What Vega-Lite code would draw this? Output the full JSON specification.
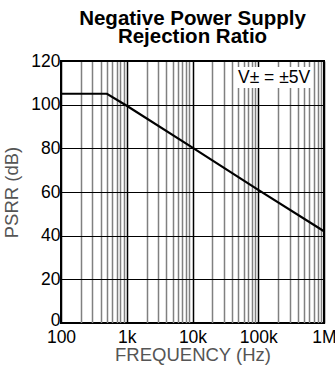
{
  "$schema": "https://vega.github.io/schema/vega-lite/v6.json",
  "width": 263,
  "height": 262,
  "autosize": {"type": "none"},
  "padding": {"left": 61, "top": 61, "right": 11, "bottom": 43},
  "background": "white",
  "title": {
    "text": ["Negative Power Supply", "Rejection Ratio"],
    "font": "Liberation Sans",
    "fontSize": 20.5,
    "fontWeight": "bold",
    "color": "black",
    "lineHeight": 17.5,
    "anchor": "middle",
    "offset": 5
  },
  "config": {
    "view": {"stroke": "black", "strokeWidth": 2},
    "axis": {
      "labelFont": "Liberation Sans",
      "titleFont": "Liberation Sans",
      "labelColor": "black",
      "titleColor": "#555555",
      "titleFontWeight": "normal",
      "domain": false,
      "ticks": false,
      "labelOverlap": false,
      "labelFlush": false
    }
  },
  "datasets": {
    "curve": [
      {"freq": 100, "psrr": 105},
      {"freq": 500, "psrr": 105},
      {"freq": 1000, "psrr": 99.5},
      {"freq": 10000, "psrr": 80.3},
      {"freq": 100000, "psrr": 61},
      {"freq": 1000000, "psrr": 42}
    ],
    "note": [
      {"x1": 45900, "x2": 648000, "y1": 107.6, "y2": 117.3, "tx": 174000, "ty": 112.4, "label": "V± = ±5V"}
    ]
  },
  "layer": [
    {
      "data": {"name": "curve"},
      "mark": {"type": "line", "color": "black", "strokeWidth": 2.2},
      "encoding": {
        "x": {
          "field": "freq",
          "type": "quantitative",
          "scale": {"type": "log", "domain": [100, 1000000], "nice": false},
          "axis": {
            "title": "FREQUENCY (Hz)",
            "titleFontSize": 18.5,
            "titlePadding": 0,
            "labelFontSize": 17.5,
            "labelPadding": 5,
            "values": [100, 200, 300, 400, 500, 600, 700, 800, 900, 1000, 2000, 3000, 4000, 5000, 6000, 7000, 8000, 9000, 10000, 20000, 30000, 40000, 50000, 60000, 70000, 80000, 90000, 100000, 200000, 300000, 400000, 500000, 600000, 700000, 800000, 900000, 1000000],
            "labelExpr": "datum.value == 100 ? '100' : datum.value == 1000 ? '1k' : datum.value == 10000 ? '10k' : datum.value == 100000 ? '100k' : datum.value == 1000000 ? '1M' : ''",
            "grid": true,
            "gridColor": {"condition": {"test": "indexof([100,1000,10000,100000,1000000], datum.value) >= 0", "value": "black"}, "value": "#808080"},
            "gridWidth": 1.5,
            "gridOpacity": 1
          }
        },
        "y": {
          "field": "psrr",
          "type": "quantitative",
          "scale": {"domain": [0, 120], "nice": false},
          "axis": {
            "title": "PSRR (dB)",
            "titleFontSize": 18.5,
            "titlePadding": 9,
            "labelFontSize": 17.5,
            "labelPadding": 1,
            "labelOffset": {"condition": {"test": "datum.value == 0", "value": -3}, "value": 0},
            "values": [0, 10, 20, 30, 40, 50, 60, 70, 80, 90, 100, 110, 120],
            "labelExpr": "datum.value % 20 == 0 ? datum.label : ''",
            "grid": true,
            "gridColor": "black",
            "gridWidth": 1.2,
            "gridOpacity": 1
          }
        }
      }
    },
    {
      "data": {"name": "note"},
      "mark": {"type": "rect", "fill": "white"},
      "encoding": {
        "x": {"field": "x1", "type": "quantitative"},
        "x2": {"field": "x2"},
        "y": {"field": "y1", "type": "quantitative"},
        "y2": {"field": "y2"}
      }
    },
    {
      "data": {"name": "note"},
      "mark": {"type": "text", "font": "Liberation Sans", "fontSize": 17.5, "color": "black", "align": "center", "baseline": "middle"},
      "encoding": {
        "x": {"field": "tx", "type": "quantitative"},
        "y": {"field": "ty", "type": "quantitative"},
        "text": {"field": "label"}
      }
    }
  ]
}
